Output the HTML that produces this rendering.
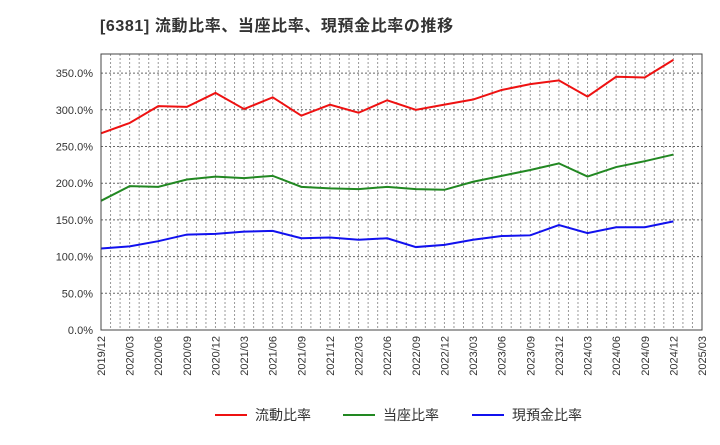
<!DOCTYPE html>
<html><head><meta charset="utf-8"><style>
body{margin:0;background:#fff;font-family:"Liberation Sans","Noto Sans CJK JP",sans-serif;}
</style></head><body>
<svg width="720" height="440" xmlns="http://www.w3.org/2000/svg">
<text x="100" y="31" font-size="16" font-weight="bold" fill="#333" letter-spacing="0.6">[6381]  流動比率、当座比率、現預金比率の推移</text>
<g id="grid"></g>
<g id="axes"></g>
<g id="series"></g>
<rect x="101" y="54" width="601" height="276" fill="none" stroke="#444" stroke-width="1"/>
<g id="legend"></g>
</svg>
<script>
const categories=["2019/12","2020/03","2020/06","2020/09","2020/12","2021/03","2021/06","2021/09","2021/12","2022/03","2022/06","2022/09","2022/12","2023/03","2023/06","2023/09","2023/12","2024/03","2024/06","2024/09","2024/12","2025/03"];
const currentRatio=[268,282,305,304,323,301,317,292,307,296,313,300,307,314,327,335,340,318,345,344,368];
const quickRatio=[176,196,195,205,209,207,210,195,193,192,195,192,191,202,210,218,227,209,222,230,239];
const cashRatio=[111,114,121,130,131,134,135,125,126,123,125,113,116,123,128,129,143,132,140,140,148];
const yTicks=[0,50,100,150,200,250,300,350];
const NS="http://www.w3.org/2000/svg";
const X0=101,X1=702,Y0=330,PX=36.7/50;
const step=(X1-X0)/(categories.length-1);
const xs=i=>X0+i*step;
const ys=v=>Y0-v*PX;
function mk(t,a,p){const e=document.createElementNS(NS,t);for(const k in a)e.setAttribute(k,a[k]);p.appendChild(e);return e;}
const grid=document.getElementById('grid'),axes=document.getElementById('axes'),ser=document.getElementById('series'),leg=document.getElementById('legend');
for(let m=1;m<(categories.length-1)*3;m++){
 const x=X0+m*step/3;
 const l=mk('line',{x1:x,x2:x,y1:54,y2:330,stroke:'#999','stroke-dasharray':'2,2','stroke-width':1},grid);
 
 
}
categories.forEach((c,i)=>{
 const t=mk('text',{x:0,y:0,'font-size':11,fill:'#333','text-anchor':'end',transform:`translate(${xs(i)+4},336) rotate(-90)`},axes);
 t.textContent=c;
 
 
});
yTicks.forEach(v=>{
 const l=mk('line',{x1:X0,x2:X1,y1:ys(v),y2:ys(v),stroke:'#666','stroke-dasharray':'2,2','stroke-width':1},grid);
 
 
 const t=mk('text',{x:93,y:ys(v)+4,'font-size':11,fill:'#333','text-anchor':'end'},axes);
 t.textContent=v.toFixed(1)+'%';
 
 
});
const series=[[currentRatio,'#ee1111','流動比率','current-ratio-line'],[quickRatio,'#228822','当座比率','quick-ratio-line'],[cashRatio,'#1111ee','現預金比率','cash-ratio-line']];
series.forEach(([d,col,name,dn],k)=>{
 const p=mk('polyline',{points:d.map((v,i)=>xs(i)+','+ys(v)).join(' '),fill:'none',stroke:col,'stroke-width':2},ser);
 
 
 const lx=[215,343,472][k];
 const g=mk('g',{},leg);
 
 
 mk('line',{x1:lx,x2:lx+32,y1:415,y2:415,stroke:col,'stroke-width':2},g);
 const t=mk('text',{x:lx+40,y:420,'font-size':14,fill:'#333'},g);
 t.textContent=name;
});
</script>
</body></html>
